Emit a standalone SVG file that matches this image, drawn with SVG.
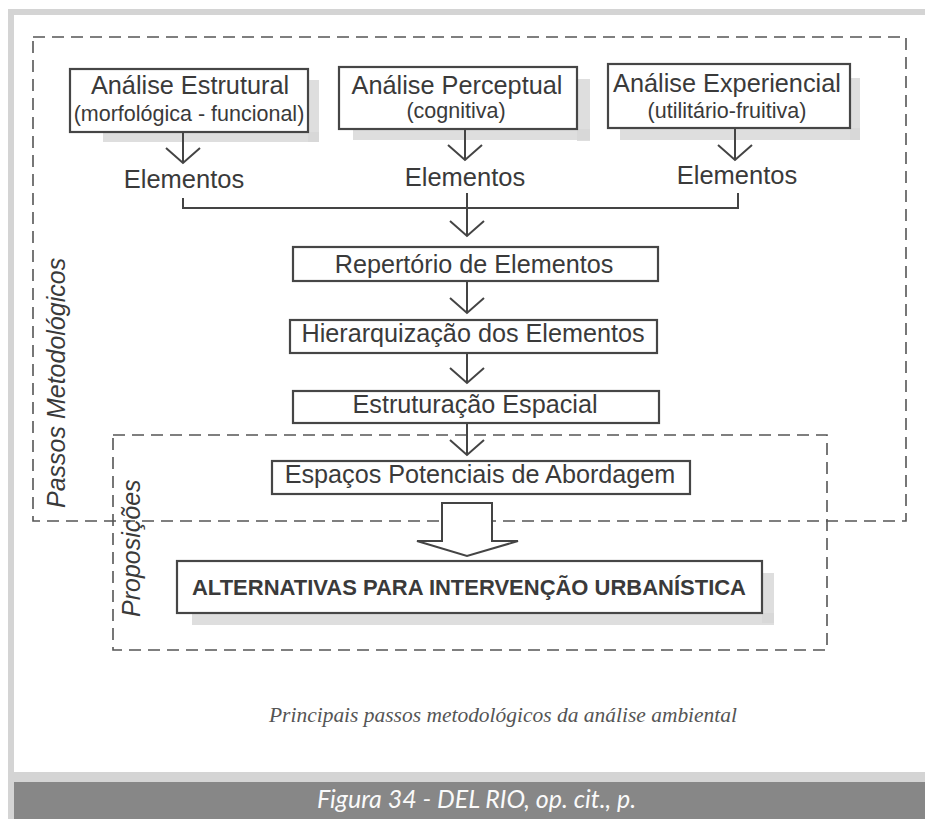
<svg xmlns="http://www.w3.org/2000/svg" width="925" height="819" viewBox="0 0 925 819">
<defs>
<style>
.box{fill:#fff;stroke:#464646;stroke-width:2.2}
.shadow{fill:#d6d6d6;opacity:0.8}
.t{font-family:"Liberation Sans",Arial,sans-serif;fill:#3a3a3a}
.ttl{font-size:25.3px;text-anchor:middle}
.sub{font-size:21.5px;text-anchor:middle}
.step{font-size:25.2px;text-anchor:middle}
.el{font-size:25.5px;text-anchor:middle}
.lbl{font-size:25px;font-style:italic}
.dash{fill:none;stroke:#555;stroke-width:1.6;stroke-dasharray:12 7}
.con{fill:none;stroke:#444;stroke-width:2}
</style>
<marker id="v" viewBox="0 0 16 34" refX="15" refY="17" markerWidth="16" markerHeight="34" markerUnits="userSpaceOnUse" orient="auto" overflow="visible">
<path d="M0,0 L15,17 L0,34" fill="none" stroke="#444" stroke-width="2"/>
</marker>
</defs>

<!-- page frame -->
<rect x="0" y="0" width="925" height="819" fill="#fff"/>
<rect x="8" y="9" width="917" height="6" fill="#d4d4d4"/>
<rect x="8" y="9" width="6" height="810" fill="#d4d4d4"/>
<rect x="8" y="772" width="917" height="10" fill="#d4d4d4"/>
<rect x="14" y="782" width="911" height="37" fill="#878787"/>

<!-- dashed regions -->
<g id="region-passos">
<path class="dash" d="M33,37 H906 V521 H33 Z"/>
<text class="t lbl" transform="translate(65,508) rotate(-90)">Passos Metodológicos</text>
</g>
<g id="region-proposicoes">
<path class="dash" d="M113,435 H827 V650 H113 Z"/>
<text class="t lbl" font-size="24.5" transform="translate(140,617) rotate(-90)">Proposições</text>
</g>

<!-- shadows -->
<g id="shadows">
<rect class="shadow" x="308" y="80" width="11" height="62"/>
<rect class="shadow" x="103" y="132" width="216" height="10"/>
<rect class="shadow" x="577" y="79" width="13" height="62"/>
<rect class="shadow" x="353" y="129" width="237" height="11"/>
<rect class="shadow" x="850" y="78" width="10" height="62"/>
<rect class="shadow" x="620" y="128" width="240" height="12"/>
<rect class="shadow" x="762" y="573" width="12" height="50"/>
<rect class="shadow" x="192" y="613" width="582" height="12"/>
</g>

<!-- top nodes -->
<g id="n-estrutural">
<rect class="box" x="70" y="69" width="238" height="63"/>
<text class="t ttl" x="190" y="94">Análise Estrutural</text>
<text class="t sub" x="189" y="121">(morfológica - funcional)</text>
</g>
<g id="n-perceptual">
<rect class="box" x="339" y="67" width="238" height="62"/>
<text class="t ttl" x="457" y="94">Análise Perceptual</text>
<text class="t sub" x="456" y="118">(cognitiva)</text>
</g>
<g id="n-experiencial">
<rect class="box" x="608" y="64" width="242" height="64"/>
<text class="t ttl" x="727" y="92">Análise Experiencial</text>
<text class="t sub" x="727" y="118">(utilitário-fruitiva)</text>
</g>

<g id="n-elementos-1"><text class="t el" x="184" y="188">Elementos</text></g>
<g id="n-elementos-2"><text class="t el" x="465" y="186">Elementos</text></g>
<g id="n-elementos-3"><text class="t el" x="737" y="184">Elementos</text></g>

<!-- middle steps -->
<g id="n-repertorio">
<rect class="box" x="293" y="247" width="365" height="34"/>
<text class="t step" x="474" y="273">Repertório de Elementos</text>
</g>
<g id="n-hierarquizacao">
<rect class="box" x="290" y="320" width="367" height="33"/>
<text class="t step" x="473" y="342">Hierarquização dos Elementos</text>
</g>
<g id="n-estruturacao">
<rect class="box" x="293" y="391" width="366" height="32"/>
<text class="t step" x="475" y="413">Estruturação Espacial</text>
</g>
<g id="n-espacos">
<rect class="box" x="272" y="461" width="418" height="33"/>
<text class="t step" x="480" y="483">Espaços Potenciais de Abordagem</text>
</g>

<g id="n-alternativas">
<rect class="box" x="177" y="561" width="585" height="52"/>
<text class="t" x="192" y="595" font-size="22" font-weight="bold" textLength="554" lengthAdjust="spacingAndGlyphs">ALTERNATIVAS PARA INTERVENÇÃO URBANÍSTICA</text>
</g>

<!-- connectors -->
<g id="connectors">
<path class="con" d="M183,132 V163" marker-end="url(#v)"/>
<path class="con" d="M465,129 V160" marker-end="url(#v)"/>
<path class="con" d="M735,128 V160" marker-end="url(#v)"/>
<path class="con" d="M183,198 V208 H738 V193"/>
<path class="con" d="M467,193 V236" marker-end="url(#v)"/>
<path class="con" d="M467,281 V313" marker-end="url(#v)"/>
<path class="con" d="M467,353 V383" marker-end="url(#v)"/>
<path class="con" d="M467,423 V455" marker-end="url(#v)"/>
<path d="M442,503 H492 V541 H518 L467,556 L417,541 H442 Z" fill="#fff" stroke="#444" stroke-width="2"/>
</g>

<!-- caption -->
<text x="269" y="722" font-family="'Liberation Serif','Times New Roman',serif" font-style="italic" font-size="21.5" fill="#555" textLength="468" lengthAdjust="spacingAndGlyphs">Principais passos metodológicos da análise ambiental</text>
<text x="317" y="808" font-family="Lato,'Open Sans',sans-serif" font-style="italic" font-size="26" fill="#fafafa" textLength="319" lengthAdjust="spacingAndGlyphs">Figura 34 - DEL RIO, op. cit., p.</text>
</svg>
